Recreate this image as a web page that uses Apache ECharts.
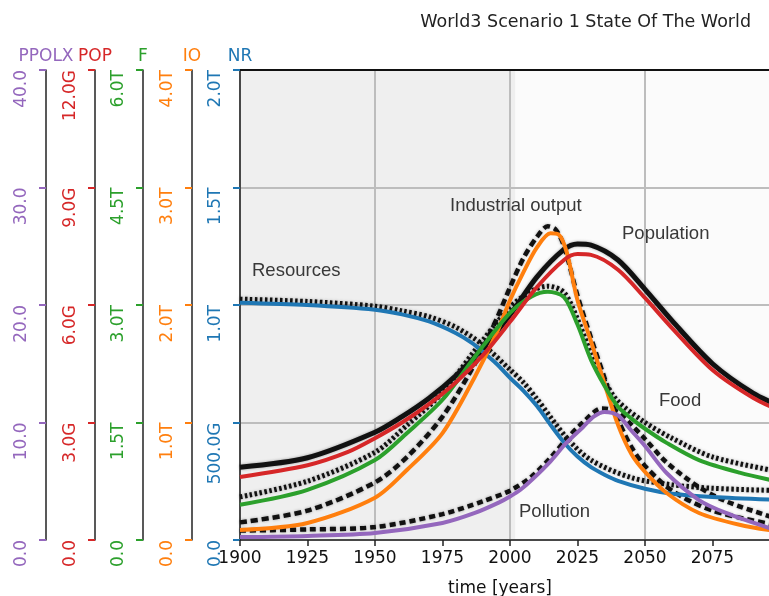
<!DOCTYPE html>
<html><head><meta charset="utf-8">
<script src="https://cdn.jsdelivr.net/npm/echarts@6/dist/echarts.min.js"></script>
<style>html,body{margin:0;padding:0;background:#fff}#c{width:769px;height:596px}</style>
</head><body><div id="c"></div>
<script>
// ---- tick labels ----
const nrTicks = ['0.0','500.0G','1.0T','1.5T','2.0T'];
const ioTicks = ['0.0','1.0T','2.0T','3.0T','4.0T'];
const fTicks = ['0.0','1.5T','3.0T','4.5T','6.0T'];
const popTicks = ['0.0','3.0G','6.0G','9.0G','12.0G'];
const ppolxTicks = ['0.0','10.0','20.0','30.0','40.0'];

// ---- model series (coloured) ----
const nrYears = [1900,1925,1950,1960,1970,1980,1986,1990,1995,2000,2005,2010,2015,2020,2025,2030,2035,2040,2050,2060,2075,2100];
const nrValues = [1.01,1.0,0.98,0.96,0.93,0.88,0.838,0.80,0.75,0.69,0.635,0.57,0.49,0.415,0.355,0.31,0.278,0.252,0.218,0.197,0.183,0.17]; // T

const ioYears = [1900,1925,1950,1962,1975,1987,1995,2000,2005,2010,2015,2018,2021,2025,2030,2035,2040,2045,2050,2058,2070,2085,2100];
const ioValues = [0.085,0.145,0.36,0.6,0.91,1.39,1.76,2.04,2.28,2.49,2.61,2.6,2.45,2.04,1.69,1.33,0.98,0.73,0.58,0.40,0.23,0.13,0.07]; // T

const fYears = [1900,1925,1950,1962,1975,1987,2000,2008,2014,2020,2025,2030,2035,2040,2045,2050,2058,2070,2085,2100];
const fValues = [0.45,0.64,1.02,1.37,1.79,2.34,2.9,3.11,3.17,3.1,2.75,2.3,1.97,1.7,1.55,1.42,1.24,1.02,0.86,0.74]; // T

const popYears = [1900,1925,1940,1950,1960,1970,1980,1990,2000,2010,2020,2025,2030,2040,2050,2060,2075,2090,2100];
const popValues = [1.61,1.91,2.25,2.6,3.0,3.47,4.03,4.72,5.57,6.46,7.15,7.3,7.28,6.9,6.18,5.41,4.34,3.63,3.3]; // G

const polYears = [1900,1925,1950,1975,1987,1996,2000,2004,2008,2015,2021,2027,2031,2035,2040,2045,2050,2058,2070,2080,2095,2100];
const polValues = [0.25,0.35,0.6,1.45,2.3,3.2,3.7,4.3,5.1,6.7,8.3,9.6,10.5,10.9,10.6,9.3,8.0,5.7,3.4,2.3,1.1,0.8];

// ---- reference (black) curves from the background figure ----
const bResYears = [1900,1925,1950,1960,1970,1980,1990,2000,2005,2010,2021,2030,2045,2060,2075,2100];
const bResValues = [1.025,1.015,0.995,0.975,0.95,0.905,0.83,0.725,0.67,0.6,0.435,0.34,0.265,0.235,0.22,0.21];

const bIoYears = [1900,1925,1950,1962,1975,1987,1995,2000,2005,2010,2014,2017,2020,2025,2030,2035,2040,2045,2050,2060,2075,2100];
const bIoValues = [0.15,0.25,0.49,0.71,1.05,1.5,1.88,2.15,2.4,2.58,2.67,2.64,2.5,2.08,1.72,1.38,1.03,0.79,0.63,0.42,0.25,0.12];

const bFYears = [1900,1925,1950,1962,1975,1987,2000,2008,2014,2020,2025,2030,2035,2040,2050,2060,2075,2100];
const bFValues = [0.55,0.75,1.12,1.47,1.88,2.42,2.97,3.18,3.24,3.16,2.82,2.38,2.03,1.77,1.5,1.3,1.06,0.87];

const bPopYears = [1900,1925,1950,1960,1970,1980,1990,2000,2010,2020,2025,2030,2040,2050,2060,2075,2090,2100];
const bPopValues = [1.86,2.1,2.75,3.15,3.62,4.2,4.9,5.75,6.72,7.42,7.56,7.53,7.15,6.4,5.6,4.5,3.75,3.42];

const bPolYears = [1900,1925,1950,1975,1990,2000,2008,2015,2021,2027,2034,2040,2045,2050,2058,2070,2080,2095,2100];
const bPolValues = [0.8,0.9,1.1,2.2,3.3,4.2,5.4,7.0,8.6,10.0,11.2,10.9,9.8,8.6,6.6,4.5,3.3,2.1,1.8];

// ---- annotation texts ----
const annTexts = ['Industrial output','Population','Resources','Food','Pollution'];

const FONT = 'DejaVu Sans';
const C = {nr:'#1f77b4', io:'#ff7f0e', f:'#2ca02c', pop:'#d62728', pol:'#9467bd'};
const zip = (xs, ys) => xs.map((x,i)=>[x, ys[i]]);

function yAx(name, color, max, offset, labels, isMain) {
  return {
    type:'value', position:'left', offset: offset, min:0, max: max, interval: max/4,
    name: name, nameLocation:'end', nameGap:5,
    nameTextStyle:{color: color, fontSize:17, fontFamily:FONT, align:'center', verticalAlign:'bottom'},
    axisLine:{show:true, onZero:false, lineStyle:{color:'#222', width:1.5}},
    axisTick:{show:true, length:7, lineStyle:{color: color, width:2}},
    axisLabel:{rotate:90, align:'right', verticalAlign:'middle', margin:24, color: color, fontSize:17, fontFamily:FONT,
      formatter: v => labels[Math.round(v/(max/4))]},
    splitLine: isMain ? {show:true, lineStyle:{color:'#bdbdbd', width:2}} : {show:false}
  };
}

function line(name, xs, ys, yi, color, width, type, z) {
  const black = color === '#111';
  return {
    name: name, type:'line', xAxisIndex:0, yAxisIndex: yi, data: zip(xs, ys),
    smooth:0.3, showSymbol:false, symbol:'none', z: z,
    lineStyle:{color: color, width: width, type: type, cap:'butt',
      shadowColor: black ? 'rgba(0,0,0,0.35)' : 'transparent', shadowBlur: black ? 3 : 0},
    emphasis:{disabled:true}
  };
}

const chart = echarts.init(document.getElementById('c'));
const annStyle = {fill:'#383838', font:'18.5px "Liberation Sans", Arial, sans-serif', align:'left', verticalAlign:'middle'};
chart.setOption({
  animation:false,
  textStyle:{fontFamily:FONT},
  title:{text:'World3 Scenario 1 State Of The World', right:13, top:8,
    textStyle:{fontSize:17.5, fontWeight:'normal', color:'#222', fontFamily:FONT}},
  grid:{left:240, right:-11, top:70, bottom:56, show:false, outerBoundsMode:'none', containLabel:false},
  xAxis:[{
    type:'value', min:1900, max:2100, interval:25, position:'bottom',
    name:'time [years]', nameLocation:'middle', nameGap:40,
    nameTextStyle:{fontSize:17, color:'#111', fontFamily:FONT, padding:[0,20,0,0]},
    axisLine:{onZero:false, lineStyle:{color:'#222', width:1.5}},
    axisTick:{length:6, lineStyle:{color:'#222', width:1.5}},
    axisLabel:{fontSize:17, color:'#111', margin:10, fontFamily:FONT, formatter: v => v >= 2100 ? '' : String(v)},
    splitLine:{show:false}
  },{
    type:'value', min:1900, max:2100, interval:50, position:'top',
    axisLine:{show:true, onZero:false, lineStyle:{color:'#111', width:2}},
    axisTick:{show:false}, axisLabel:{show:false},
    splitLine:{show:true, lineStyle:{color:'#bdbdbd', width:2}}
  }],
  yAxis:[
    yAx('NR', C.nr, 2, 0, nrTicks, true),
    yAx('IO', C.io, 4, 48, ioTicks, false),
    yAx('F', C.f, 6, 97, fTicks, false),
    yAx('POP', C.pop, 12, 145, popTicks, false),
    yAx('PPOLX', C.pol, 40, 194, ppolxTicks, false)
  ],
  graphic:{elements:[
    {type:'text', x:450, y:206, z:1, style:Object.assign({text:annTexts[0]}, annStyle)},
    {type:'text', x:622, y:234, z:1, style:Object.assign({text:annTexts[1]}, annStyle)},
    {type:'text', x:252, y:271, z:1, style:Object.assign({text:annTexts[2]}, annStyle)},
    {type:'text', x:659, y:401, z:1, style:Object.assign({text:annTexts[3]}, annStyle)},
    {type:'text', x:519, y:512, z:1, style:Object.assign({text:annTexts[4]}, annStyle)}
  ]},
  series:[
    {type:'line', xAxisIndex:0, yAxisIndex:0, data:[], z:-1, silent:true,
      markArea:{silent:true, z:-5, data:[
        [{xAxis:1900, itemStyle:{color:'#efefef'}},{xAxis:2002}],
        [{xAxis:2002, itemStyle:{color:'#fbfbfb'}},{xAxis:2100}]
      ]}},
    line('Resources (ref)', bResYears, bResValues, 0, '#111', 5, [2.5,2.5], 2),
    line('Industrial output (ref)', bIoYears, bIoValues, 1, '#111', 4.5, [7,4], 2),
    line('Food (ref)', bFYears, bFValues, 2, '#111', 5, [2.5,2.5], 2),
    line('Population (ref)', bPopYears, bPopValues, 3, '#111', 5, 'solid', 2),
    line('Pollution (ref)', bPolYears, bPolValues, 4, '#111', 4.5, [6,4], 2),
    line('NR', nrYears, nrValues, 0, C.nr, 4, 'solid', 3),
    line('IO', ioYears, ioValues, 1, C.io, 4, 'solid', 3),
    line('F', fYears, fValues, 2, C.f, 4, 'solid', 3),
    line('POP', popYears, popValues, 3, C.pop, 4, 'solid', 3),
    line('PPOLX', polYears, polValues, 4, C.pol, 4, 'solid', 3)
  ]
});
</script></body></html>
